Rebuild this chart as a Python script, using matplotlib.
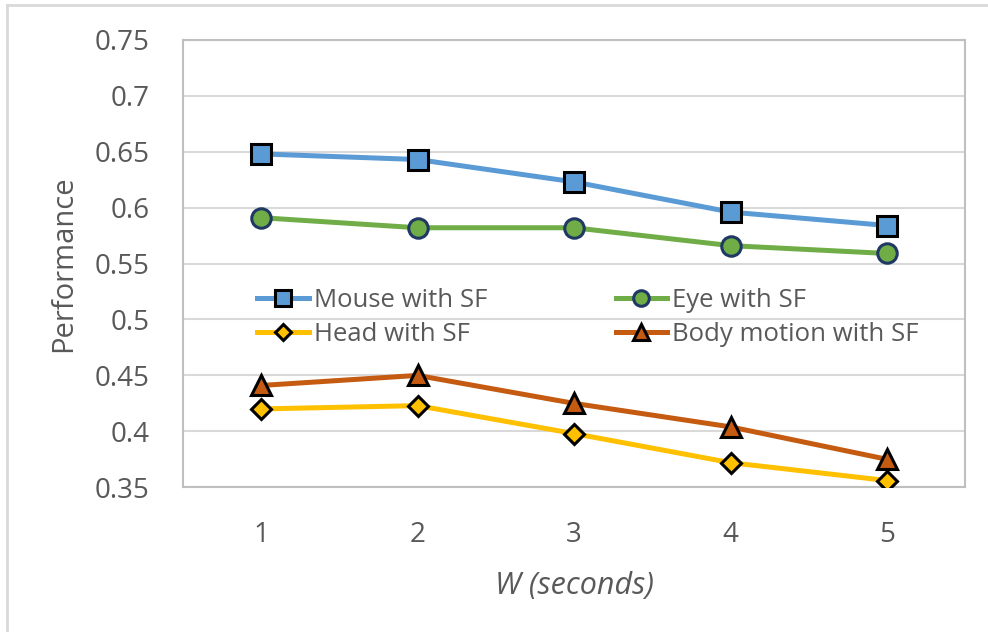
import matplotlib.pyplot as plt
from matplotlib.lines import Line2D

plt.rcParams['font.family'] = ['Open Sans', 'DejaVu Sans']

# window length W (seconds)
w_values = [1, 2, 3, 4, 5]

mouse_sf = [0.648, 0.643, 0.623, 0.596, 0.584]
eye_sf = [0.591, 0.582, 0.582, 0.566, 0.559]
head_sf = [0.420, 0.423, 0.398, 0.372, 0.356]
body_sf = [0.441, 0.450, 0.425, 0.404, 0.375]

series_names = ['Mouse with SF', 'Eye with SF', 'Head with SF', 'Body motion with SF']

text_gray = '#595959'
grid_gray = '#d9d9d9'

fig = plt.figure(figsize=(9.88, 6.32), dpi=100)
ax = fig.add_axes([0.185, 0.229, 0.792, 0.708])

styles = [
    (mouse_sf, '#5b9bd5', 's', 'black', 14),
    (eye_sf, '#70ad47', 'o', '#1f3864', 14),
    (head_sf, '#ffc000', 'D', 'black', 10),
    (body_sf, '#c55a11', '^', 'black', 15),
]
handles = []
for (vals, col, mk, edge, ms), name in zip(styles, series_names):
    h, = ax.plot(w_values, vals, color=col, lw=3.6, marker=mk, markersize=ms,
                 markerfacecolor=col, markeredgecolor=edge, markeredgewidth=2.2,
                 label=name, zorder=3)
    handles.append(h)

ax.set_xlim(0.5, 5.5)
ax.set_ylim(0.35, 0.75)
ax.set_xticks(w_values)
ax.set_yticks([0.35, 0.4, 0.45, 0.5, 0.55, 0.6, 0.65, 0.7, 0.75])
ax.set_yticklabels(['0.35', '0.4', '0.45', '0.5', '0.55', '0.6', '0.65', '0.7', '0.75'])
ax.tick_params(length=0, labelsize=20, colors=text_gray)
ax.tick_params(axis='y', pad=24)
ax.tick_params(axis='x', pad=24)
ax.grid(axis='y', color=grid_gray, lw=1.5)
ax.set_axisbelow(True)
for sp in ax.spines.values():
    sp.set_color('#bfbfbf')
    sp.set_linewidth(1.5)

ax.set_xlabel('W (seconds)', fontsize=22, color=text_gray, style='italic', labelpad=16)
ax.set_ylabel('Performance', fontsize=21, color=text_gray, labelpad=12)

# row-wise legend order like the original: Mouse, Eye / Head, Body
order = [0, 2, 1, 3]
ax.legend([handles[i] for i in order], [series_names[i] for i in order],
          loc='center', bbox_to_anchor=(0.518, 0.379), ncol=2, frameon=False,
          fontsize=18.5, labelcolor=text_gray, handlelength=2.0, handletextpad=0.2,
          columnspacing=5.0, labelspacing=0.33, markerscale=0.8)

# partial outer frame visible in the reference (top and left edges)
fig.add_artist(Line2D([0.007, 1.0], [0.992, 0.992], transform=fig.transFigure, color='#d9d9d9', lw=2))
fig.add_artist(Line2D([0.007, 0.007], [0.0, 0.992], transform=fig.transFigure, color='#d9d9d9', lw=2))

fig.savefig('out.png', dpi=100)
